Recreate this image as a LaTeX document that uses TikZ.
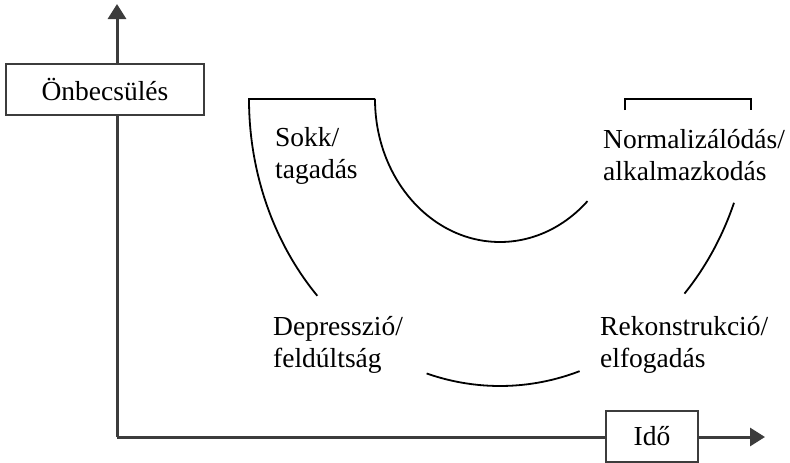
\documentclass[tikz,border=0pt]{standalone}
\usepackage{fontspec}
\setmainfont{Liberation Serif}
\usetikzlibrary{arrows.meta}
\definecolor{axisgray}{HTML}{3C3C3C}
\begin{document}
\begin{tikzpicture}[x=1pt,y=-1pt,
  axis/.style={draw=axisgray,line width=3pt,-{Triangle[length=15pt,width=18pt]}},
  axbox/.style={draw=axisgray,line width=2pt,fill=white,minimum height=51pt,inner sep=0pt,font=\fontsize{27.5}{32}\selectfont},
  lbl/.style={anchor=base west,align=left,inner sep=0pt,font=\fontsize{27.5}{32}\selectfont},
  curve/.style={draw=black,line width=1.8pt}]
\useasboundingbox (0,0) rectangle (790,463);
\coordinate (o) at (117,437);
\coordinate (ytip) at (117,4);
\coordinate (xtip) at (765,437);
\coordinate (c) at (500,99);
\draw[axis] (o) -- (ytip);
\draw[axis] (o) -- (xtip);
\node[axbox,minimum width=198pt] (yl) at (105,89.5) {Önbecsülés};
\node[axbox,minimum width=92pt] (xl) at (652,436.5) {Idő};
% shapes
\draw[curve] (375,99) -- (249,99) arc[start angle=180,end angle=223.3,x radius=251pt,y radius=287pt];
\draw[curve] (c) ++(253:251pt and 287pt) arc[start angle=253,end angle=288.5,x radius=251pt,y radius=287pt];
\draw[curve] (c) ++(317.3:251pt and 287pt) arc[start angle=317.3,end angle=338.8,x radius=251pt,y radius=287pt];
\draw[curve] (375,99) arc[start angle=180,end angle=314.4,x radius=125pt,y radius=143pt];
\draw[curve] (625,110) -- (625,99) -- (751,99) -- (751,110);
% labels (anchor = baseline of the last line)
\node[lbl] (sokk) at (275,178) {Sokk/\\tagadás};
\node[lbl] (norm) at (603,180) {Normalizálódás/\\alkalmazkodás};
\node[lbl] (depr) at (273,367) {Depresszió/\\feldúltság};
\node[lbl] (rek) at (600,367) {Rekonstrukció/\\elfogadás};
\end{tikzpicture}
\end{document}
